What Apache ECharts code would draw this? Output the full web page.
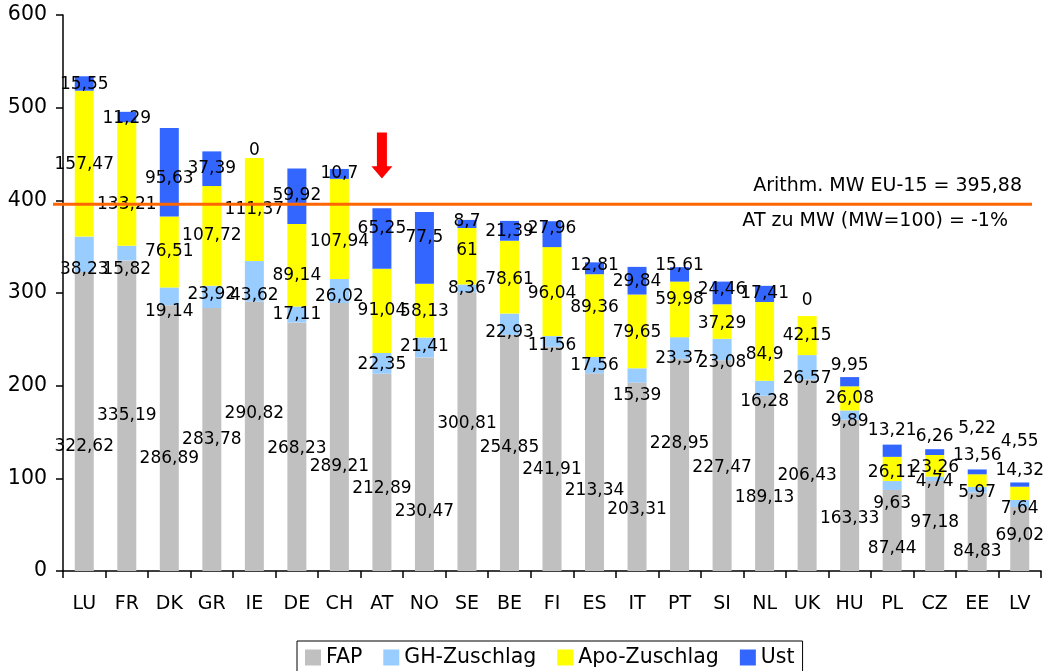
<!DOCTYPE html>
<html>
<head>
<meta charset="utf-8">
<script src="https://cdn.jsdelivr.net/npm/echarts@6/dist/echarts.min.js"></script>
<style>
  html, body { margin: 0; padding: 0; background: #fff; }
  #chart { width: 1045px; height: 671px; }
</style>
</head>
<body>
<div id="chart"></div>
<script>
// Price build-up per country: FAP + wholesale margin + pharmacy margin + VAT
const countries = ['LU','FR','DK','GR','IE','DE','CH','AT','NO','SE','BE','FI','ES','IT','PT','SI','NL','UK','HU','PL','CZ','EE','LV'];
const fap = [322.62,335.19,286.89,283.78,290.82,268.23,289.21,212.89,230.47,300.81,254.85,241.91,213.34,203.31,228.95,227.47,189.13,206.43,163.33,87.44,97.18,84.83,69.02];
const ghZuschlag = [38.23,15.82,19.14,23.92,43.62,17.11,26.02,22.35,21.41,8.36,22.93,11.56,17.56,15.39,23.37,23.08,16.28,26.57,9.89,9.63,4.74,5.97,7.64];
const apoZuschlag = [157.47,133.21,76.51,107.72,111.37,89.14,107.94,91.04,58.13,61,78.61,96.04,89.36,79.65,59.98,37.29,84.9,42.15,26.08,26.11,23.26,13.56,14.32];
const ust = [15.55,11.29,95.63,37.39,0,59.92,10.7,65.25,77.5,8.7,21.39,27.96,12.81,29.84,15.61,24.46,17.41,0,9.95,13.21,6.26,5.22,4.55];
const meanEU15 = 395.88;
const yTicks = { min: 0, max: 600, step: 100 };

// Vertical nudges (px) for the value labels, per country
const fapLabelDy = [25,0,21,0,-23,2,30,16,47,-8,-5,11,18,33,-21,2,14,0,23,18,-3,20,-3];
const ghLabelDy  = [15,17,15,-2,14,0,6,1,-1,0,8,4,0,20,11,13,13,11,7,18,3,3,5];
const apoLabelDy = [1,21,0,0,0,10,13,0,1,-6,2,2,-8,1,-10,2,13,0,0,4,2,-25,-23];
const ustLabelDy = [1,2,6,0,-7,-1,0,-10,-10,-2,1,-6,-3,1,-9,-3,0,-15,-16,-20,-16,-43,-43];

const FONT = 'DejaVu Sans';
const fmt = v => String(v).replace('.', ',');

function makeSeries(name, values, dys, color, extra) {
  return Object.assign({
    name: name,
    type: 'bar',
    stack: 'total',
    barWidth: 19,
    itemStyle: { color: color },
    data: values.map((v, i) => ({
      value: v,
      label: { offset: [0, dys[i]] }
    })),
    label: {
      show: true,
      position: 'inside',
      color: '#000',
      fontFamily: FONT,
      fontSize: 17,
      textBorderWidth: 0,
      formatter: p => fmt(p.value)
    },
    emphasis: { disabled: true }
  }, extra || {});
}

const chart = echarts.init(document.getElementById('chart'), null, { renderer: 'canvas' });

chart.setOption({
  animation: false,
  backgroundColor: '#fff',
  grid: { left: 63, right: 4, top: 15, bottom: 100, containLabel: false },
  legend: {
    data: ['FAP', 'GH-Zuschlag', 'Apo-Zuschlag', 'Ust'],
    left: 297,
    top: 641,
    padding: [6, 8, 12, 8],
    borderColor: '#000',
    borderWidth: 1,
    itemWidth: 16,
    itemHeight: 16,
    itemGap: 21,
    icon: 'rect',
    textStyle: { fontFamily: FONT, fontSize: 20.5, color: '#000' }
  },
  xAxis: {
    type: 'category',
    data: countries,
    axisLine: { lineStyle: { color: '#000', width: 1.5 } },
    axisTick: { show: true, length: 7, lineStyle: { color: '#000', width: 1.5 } },
    axisLabel: { color: '#000', fontFamily: FONT, fontSize: 19, margin: 24 },
    splitLine: { show: false }
  },
  yAxis: {
    type: 'value',
    min: yTicks.min,
    max: yTicks.max,
    interval: yTicks.step,
    axisLine: { show: true, lineStyle: { color: '#000', width: 1.5 } },
    axisTick: { show: true, length: 7, lineStyle: { color: '#000', width: 1.5 } },
    axisLabel: { color: '#000', fontFamily: FONT, fontSize: 20.5, margin: 16 },
    splitLine: { show: false }
  },
  series: [
    makeSeries('FAP', fap, fapLabelDy, '#C0C0C0', {
      // Red arrow pointing at Austria
      markPoint: {
        silent: true,
        symbol: 'path://M5.5,0 H15.5 V33.5 H21 L10.5,45.6 L0,33.5 H5.5 Z',
        symbolSize: [21, 46],
        itemStyle: { color: '#FF0000' },
        label: { show: false },
        data: [{ coord: ['AT', 448.4] }]
      }
    }),
    makeSeries('GH-Zuschlag', ghZuschlag, ghLabelDy, '#99CCFF'),
    makeSeries('Apo-Zuschlag', apoZuschlag, apoLabelDy, '#FFFF00'),
    makeSeries('Ust', ust, ustLabelDy, '#3366FF')
  ]
});

// Mean line and its captions
const yMean = chart.convertToPixel({ yAxisIndex: 0 }, meanEU15);
chart.setOption({
  graphic: [
    {
      type: 'line',
      silent: true,
      z: 10,
      shape: { x1: 53, y1: yMean, x2: 1032, y2: yMean },
      style: { stroke: '#FF6600', lineWidth: 3 }
    },
    {
      type: 'text',
      silent: true,
      z: 10,
      x: 1022,
      y: yMean - 18,
      style: {
        text: 'Arithm. MW EU-15 = 395,88',
        fill: '#000',
        font: '19px "DejaVu Sans"',
        align: 'right',
        verticalAlign: 'middle'
      }
    },
    {
      type: 'text',
      silent: true,
      z: 10,
      x: 1008,
      y: yMean + 17,
      style: {
        text: 'AT zu MW (MW=100) = -1%',
        fill: '#000',
        font: '19px "DejaVu Sans"',
        align: 'right',
        verticalAlign: 'middle'
      }
    }
  ]
});
</script>
</body>
</html>
